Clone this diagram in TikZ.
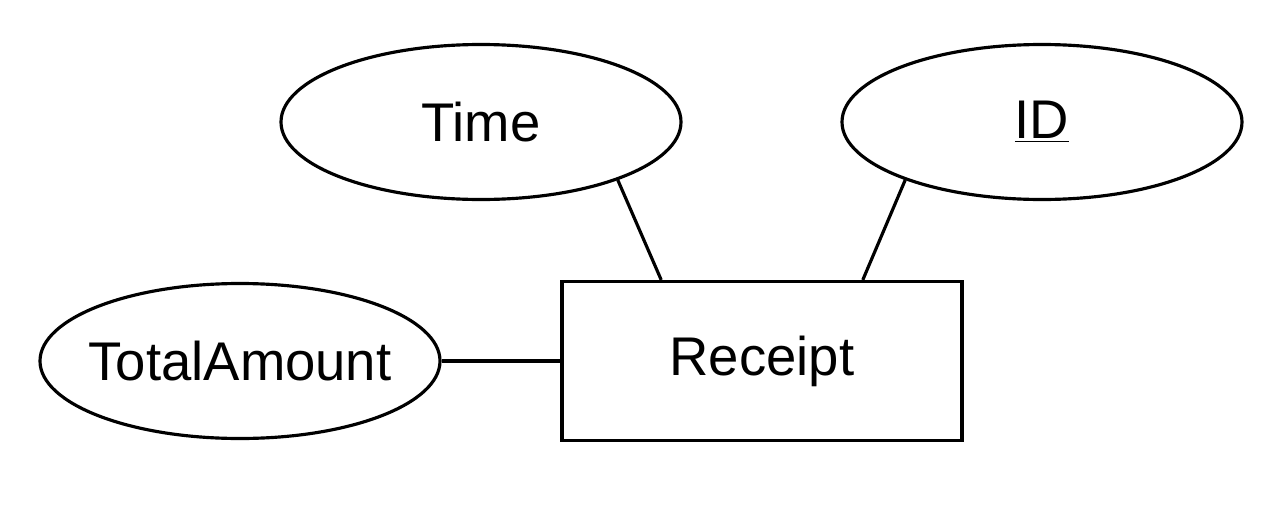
\documentclass[tikz,border=0pt]{standalone}
\usepackage{fontspec}
\setmainfont{Liberation Sans}
\usetikzlibrary{shapes.geometric,calc}

\begin{document}
\begin{tikzpicture}[
    scale=1.0, every node/.style={scale=1.0},
    attr/.style={draw, ellipse, line width=1.8pt, minimum width=8cm, minimum height=3.1cm, inner xsep=-0.5cm, inner ysep=0pt, font=\fontsize{31}{36}\selectfont},
    entity/.style={draw, rectangle, line width=1.8pt, minimum width=8cm, minimum height=3.18cm, inner sep=0pt, font=\fontsize{31}{36}\selectfont},
    link/.style={line width=1.8pt}
]

% Page size
\useasboundingbox (0,0) rectangle (25.68,10.32);

% Entity
\node[entity] (receipt) at (15.24,3.1) {Receipt};

% Attributes
\node[attr] (time) at (9.62,7.88) {Time};
\node[attr] (id) at (20.84,7.88) {\underline{ID}};
\node[attr] (total) at (4.8,3.1) {TotalAmount};

% Attachment points on the entity
\coordinate (rtop1) at ($(receipt.north west)!0.25!(receipt.north east)$);
\coordinate (rtop2) at ($(receipt.north west)!0.75!(receipt.north east)$);

% Connectors
\draw[link] (time.-23) -- (rtop1);
\draw[link] (id.-157) -- (rtop2);
\draw[link] (total.east) -- (receipt.west);

\end{tikzpicture}
\end{document}
